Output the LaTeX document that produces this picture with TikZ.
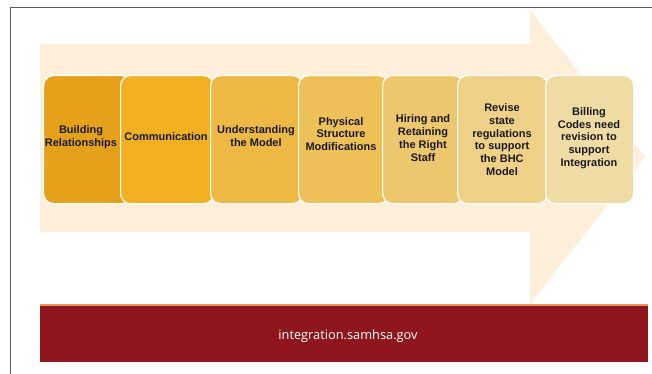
\documentclass[tikz,border=0pt]{standalone}
\usepackage{fontspec}
\setmainfont{Liberation Sans}
\newfontfamily\footfont{Open Sans}
\begin{document}
\begin{tikzpicture}[x=1pt,y=-1pt]
  \definecolor{framegray}{HTML}{5A5A5A}
  \definecolor{arrowcream}{HTML}{FDEFD9}
  \definecolor{barred}{HTML}{8E161C}
  \definecolor{barline}{HTML}{E8935A}
  \definecolor{c1}{HTML}{E5A11A}
  \definecolor{c2}{HTML}{F0B022}
  \definecolor{c3}{HTML}{EDB844}
  \definecolor{c4}{HTML}{EDC058}
  \definecolor{c5}{HTML}{EDC76E}
  \definecolor{c6}{HTML}{EED186}
  \definecolor{c7}{HTML}{EFDCA4}
  \definecolor{inktext}{HTML}{1A1A1A}
  \tikzset{
    stepbox/.style={draw=white, line width=1.2pt, rounded corners=10pt,
      anchor=north west, minimum height=128pt, inner sep=0pt},
    steptext/.style={align=center, font=\bfseries\fontsize{11}{12.8}\selectfont,
      text=inktext, inner sep=0pt},
  }
  \useasboundingbox (0,0) rectangle (652,374);
  \fill[white] (0,0) rectangle (652,374);

  % outer frame
  \draw[framegray, line width=1pt] (10,374) -- (10,8) -- (652,8);

  % big background arrow
  \fill[arrowcream] (40,44) -- (530,44) -- (530,10) -- (645,157)
    -- (530,304) -- (530,232) -- (40,232) -- cycle;

  % process steps
  \node[stepbox, fill=c1, minimum width=88pt] (b1) at (43,75) {};
  \node[stepbox, fill=c2, minimum width=93pt] (b2) at (120,75) {};
  \node[stepbox, fill=c3, minimum width=92pt] (b3) at (210,75) {};
  \node[stepbox, fill=c4, minimum width=90pt] (b4) at (298,75) {};
  \node[stepbox, fill=c5, minimum width=81pt] (b5) at (382,75) {};
  \node[stepbox, fill=c6, minimum width=90pt] (b6) at (457,75) {};
  \node[stepbox, fill=c7, minimum width=88pt] (b7) at (545,75) {};

  \node[steptext] (t1) at (81,137.5) {Building\\Relationships};
  \node[steptext] (t2) at (166,137) {Communication};
  \node[steptext] (t3) at (256,136) {Understanding\\the Model};
  \node[steptext] (t4) at (341,134) {Physical\\Structure\\Modifications};
  \node[steptext] (t5) at (423,138) {Hiring and\\Retaining\\the Right\\Staff};
  \node[steptext] (t6) at (502,139.5) {Revise\\state\\regulations\\to support\\the BHC\\Model};
  \node[steptext] (t7) at (589,138) {Billing\\Codes need\\revision to\\support\\Integration};

  % footer bar
  \fill[barred] (40,305) rectangle (648,362);
  \fill[barline] (40,303.5) rectangle (648,306);
  \node[text=white, font=\footfont\fontsize{12.8}{15}\selectfont] (foot) at (348,336)
    {integration.samhsa.gov};
\end{tikzpicture}
\end{document}
